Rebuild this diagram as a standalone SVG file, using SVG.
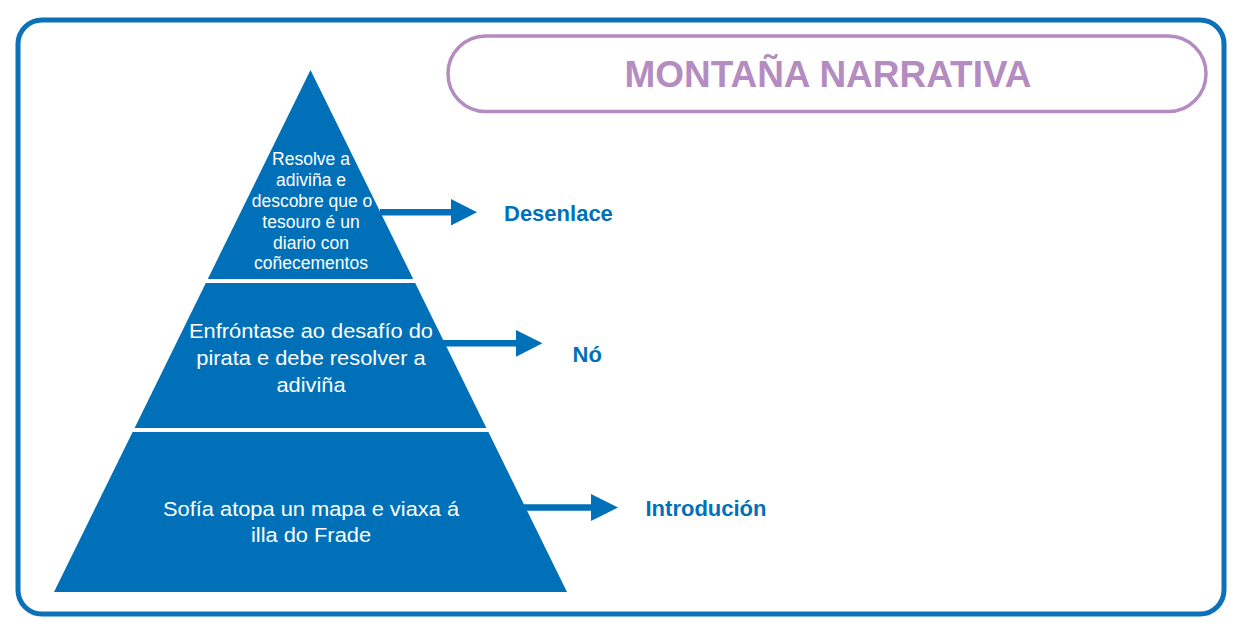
<svg xmlns="http://www.w3.org/2000/svg" width="1241" height="635" viewBox="0 0 1241 635">
<style>
.band{fill:#0071b9}
.btxt{fill:#ffffff;font-family:"Liberation Sans",Arial,sans-serif;text-anchor:middle}
.lbl{fill:#0071b9;font-family:"Liberation Sans",Arial,sans-serif;font-weight:bold;font-size:22px}
.arrow{fill:#0071b9}
</style>
<rect x="0" y="0" width="1241" height="635" fill="#ffffff"/>
<rect id="frame" x="18" y="20" width="1206" height="594" rx="24" ry="24" fill="none" stroke="#0d71b9" stroke-width="5"/>
<g id="title">
<rect x="448" y="36" width="758" height="75.5" rx="37.75" ry="37.75" fill="none" stroke="#b48cc1" stroke-width="3.5"/>
<text x="828" y="87" text-anchor="middle" font-family="'Liberation Sans',Arial,sans-serif" font-weight="bold" font-size="36" fill="#b48cc1" textLength="407" lengthAdjust="spacingAndGlyphs">MONTAÑA NARRATIVA</text>
</g>
<g id="band-top">
<polygon class="band" points="310.5,70 413.2,279 207.8,279"/>
<text class="btxt" font-size="17.5" x="311" y="165">Resolve a</text>
<text class="btxt" font-size="17.5" x="311" y="186">adiviña e</text>
<text class="btxt" font-size="17.5" x="312" y="207">descobre que o</text>
<text class="btxt" font-size="17.5" x="311" y="228">tesouro é un</text>
<text class="btxt" font-size="17.5" x="311" y="248.5">diario con</text>
<text class="btxt" font-size="17.5" x="311" y="269">coñecementos</text>
</g>
<g id="band-middle">
<polygon class="band" points="205.8,283 415.2,283 486.4,428 134.6,428"/>
<g transform="translate(311,0) scale(1.12,1)">
<text class="btxt" font-size="19.5" x="0" y="338">Enfróntase ao desafío do</text>
<text class="btxt" font-size="19.5" x="0" y="365">pirata e debe resolver a</text>
<text class="btxt" font-size="19.5" x="0" y="392">adiviña</text>
</g>
</g>
<g id="band-bottom">
<polygon class="band" points="132.6,432 488.4,432 567,592 54,592"/>
<g transform="translate(311,0) scale(1.12,1)">
<text class="btxt" font-size="19.5" x="0" y="516">Sofía atopa un mapa e viaxa á</text>
<text class="btxt" font-size="19.5" x="0" y="542.5">illa do Frade</text>
</g>
</g>
<g id="connectors">
<polygon class="arrow" points="380,209 451,209 451,199 477,212.3 451,225.5 451,215.5 380,215.5"/>
<polygon class="arrow" points="442,340 516,340 516,330 542.5,343.3 516,356.7 516,346.6 442,346.6"/>
<polygon class="arrow" points="522,504.2 591,504.2 591,494 618,507.5 591,521 591,510.8 522,510.8"/>
</g>
<g id="label-desenlace"><text class="lbl" x="504" y="220.5">Desenlace</text></g>
<g id="label-no"><text class="lbl" x="572.5" y="361.5">Nó</text></g>
<g id="label-introducion"><text class="lbl" x="645.5" y="516">Introdución</text></g>
</svg>
